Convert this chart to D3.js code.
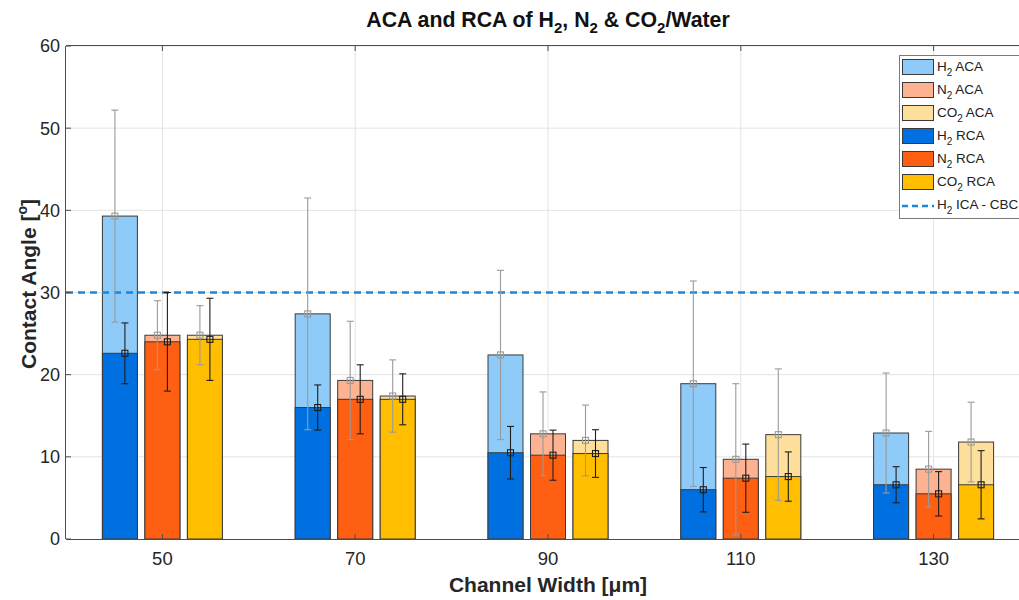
<!DOCTYPE html>
<html>
<head>
<meta charset="utf-8">
<script src="https://cdn.jsdelivr.net/npm/d3@7"></script>
<style>
  html, body { margin: 0; padding: 0; background: #fff; }
  svg { display: block; font-family: "Liberation Sans", Arial, sans-serif; }
</style>
</head>
<body>
<svg id="chart" width="1019" height="600"></svg>
<script>
// ---------------- data ----------------
const widths = [50, 70, 90, 110, 130];
const yTicks = [0, 10, 20, 30, 40, 50, 60];

const h2ACA     = [39.3, 27.4, 22.4, 18.9, 12.9];
const h2ACAerr  = [12.9, 14.1, 10.3, 12.5, 7.3];
const h2RCA     = [22.6, 16.0, 10.5, 6.0, 6.6];
const h2RCAerr  = [3.7, 2.75, 3.2, 2.7, 2.2];

const n2ACA     = [24.8, 19.3, 12.8, 9.7, 8.5];
const n2ACAerr  = [4.2, 7.2, 5.1, 9.2, 4.6];
const n2RCA     = [24.0, 17.0, 10.2, 7.4, 5.5];
const n2RCAerr  = [6.0, 4.2, 3.05, 4.15, 2.7];

const co2ACA    = [24.8, 17.4, 12.0, 12.7, 11.8];
const co2ACAerr = [3.6, 4.4, 4.3, 8.0, 4.85];
const co2RCA    = [24.3, 17.0, 10.4, 7.6, 6.6];
const co2RCAerr = [5.0, 3.1, 2.9, 3.0, 4.15];

const h2ICA_CBC = 30;

// ---------------- layout ----------------
const svg = d3.select("#chart");
const pL = 66, pR = 1030, pT = 46, pB = 539;

const x = d3.scaleLinear().domain([40, 140]).range([pL, pR]);
const y = d3.scaleLinear().domain([0, 60]).range([pB, pT]);

const gases = [
  { aca: h2ACA,  acaErr: h2ACAerr,  rca: h2RCA,  rcaErr: h2RCAerr,  light: "#8fcbf8", dark: "#0070e0", off: -42.5 },
  { aca: n2ACA,  acaErr: n2ACAerr,  rca: n2RCA,  rcaErr: n2RCAerr,  light: "#fdb292", dark: "#ff5f12", off: 0 },
  { aca: co2ACA, acaErr: co2ACAerr, rca: co2RCA, rcaErr: co2RCAerr, light: "#ffdf9c", dark: "#ffbe00", off: 42.5 }
];
const barW = 35, errOff = 5, capW = 7, mk = 6;

// grid
const grid = svg.append("g");
grid.selectAll("line.hg").data(yTicks.slice(1)).join("line")
  .attr("x1", pL).attr("x2", pR).attr("y1", d => y(d)).attr("y2", d => y(d))
  .attr("stroke", "#e3e3e3").attr("stroke-width", 1);
grid.selectAll("line.vg").data(widths).join("line")
  .attr("x1", d => x(d)).attr("x2", d => x(d)).attr("y1", pT).attr("y2", pB)
  .attr("stroke", "#e3e3e3").attr("stroke-width", 1);

// bars
const bars = svg.append("g");
gases.forEach(g => {
  bars.selectAll(null).data(widths).join("rect")
    .attr("x", (d) => x(d) + g.off - barW / 2)
    .attr("width", barW)
    .attr("y", (d, i) => y(g.aca[i]))
    .attr("height", (d, i) => y(0) - y(g.aca[i]))
    .attr("fill", g.light).attr("stroke", "#3a3a3a").attr("stroke-width", 1);
  bars.selectAll(null).data(widths).join("rect")
    .attr("x", (d) => x(d) + g.off - barW / 2)
    .attr("width", barW)
    .attr("y", (d, i) => y(g.rca[i]))
    .attr("height", (d, i) => y(0) - y(g.rca[i]))
    .attr("fill", g.dark).attr("stroke", "#3a3a3a").attr("stroke-width", 1);
});

// ICA line
svg.append("line")
  .attr("x1", pL).attr("x2", pR)
  .attr("y1", y(h2ICA_CBC)).attr("y2", y(h2ICA_CBC))
  .attr("stroke", "#1a86dc").attr("stroke-width", 2.5).attr("stroke-dasharray", "7,5");

// error bars
function errorBars(vals, errs, off, color) {
  const gE = svg.append("g").attr("stroke", color).attr("fill", "none").attr("stroke-width", 1.1);
  widths.forEach((w, i) => {
    const cx = x(w) + off;
    const v = vals[i], e = errs[i];
    gE.append("line").attr("x1", cx).attr("x2", cx).attr("y1", y(v + e)).attr("y2", y(v - e));
    gE.append("line").attr("x1", cx - capW / 2).attr("x2", cx + capW / 2).attr("y1", y(v + e)).attr("y2", y(v + e));
    gE.append("line").attr("x1", cx - capW / 2).attr("x2", cx + capW / 2).attr("y1", y(v - e)).attr("y2", y(v - e));
    gE.append("rect").attr("x", cx - mk / 2).attr("y", y(v) - mk / 2).attr("width", mk).attr("height", mk);
  });
}
gases.forEach(g => {
  errorBars(g.aca, g.acaErr, g.off - errOff, "#9a9a9a");
  errorBars(g.rca, g.rcaErr, g.off + errOff, "#1e1e1e");
});

// axes box
const ax = svg.append("g").attr("stroke", "#4d4d4d").attr("stroke-width", 1);
ax.append("line").attr("x1", pL).attr("x2", pR).attr("y1", pB + 0.5).attr("y2", pB + 0.5);
ax.append("line").attr("x1", pL).attr("x2", pR).attr("y1", pT - 0.5).attr("y2", pT - 0.5);
ax.append("line").attr("x1", pL - 0.5).attr("x2", pL - 0.5).attr("y1", pT).attr("y2", pB);
// ticks (inside)
ax.selectAll(null).data(yTicks).join("line")
  .attr("x1", pL).attr("x2", pL + 5).attr("y1", d => y(d)).attr("y2", d => y(d));
ax.selectAll(null).data(widths).join("line")
  .attr("x1", d => x(d)).attr("x2", d => x(d)).attr("y1", pB).attr("y2", pB - 5);
ax.selectAll(null).data(widths).join("line")
  .attr("x1", d => x(d)).attr("x2", d => x(d)).attr("y1", pT).attr("y2", pT + 5);

// tick labels
svg.append("g").selectAll("text").data(yTicks).join("text")
  .attr("x", pL - 6).attr("y", d => y(d)).attr("dy", "0.36em")
  .attr("text-anchor", "end").attr("font-size", 18).attr("fill", "#262626")
  .text(d => d);
svg.append("g").selectAll("text").data(widths).join("text")
  .attr("x", d => x(d)).attr("y", 565)
  .attr("text-anchor", "middle").attr("font-size", 18.5).attr("fill", "#262626")
  .text(d => d);

// title
const title = svg.append("text").attr("x", 548).attr("y", 27)
  .attr("text-anchor", "middle").attr("font-size", 21.3).attr("font-weight", "bold").attr("fill", "#111");
title.append("tspan").text("ACA and RCA of H");
title.append("tspan").attr("font-size", 15).attr("dy", 6).text("2");
title.append("tspan").attr("dy", -6).text(", N");
title.append("tspan").attr("font-size", 15).attr("dy", 6).text("2");
title.append("tspan").attr("dy", -6).text(" & CO");
title.append("tspan").attr("font-size", 15).attr("dy", 6).text("2");
title.append("tspan").attr("dy", -6).text("/Water");

// x label
svg.append("text").attr("x", 548).attr("y", 592)
  .attr("text-anchor", "middle").attr("font-size", 21).attr("font-weight", "bold").attr("fill", "#262626")
  .text("Channel Width [\u03BCm]");

// y label
const yl = svg.append("text").attr("transform", "translate(36,284) rotate(-90)")
  .attr("text-anchor", "middle").attr("font-size", 21).attr("font-weight", "bold").attr("fill", "#262626");
yl.append("tspan").text("Contact Angle [");
yl.append("tspan").attr("font-size", 14).attr("dy", -9).text("o");
yl.append("tspan").attr("dy", 9).text("]");

// legend
const legItems = [
  { base: "H", lab: " ACA", color: gases[0].light, type: "rect" },
  { base: "N", lab: " ACA", color: gases[1].light, type: "rect" },
  { base: "CO", lab: " ACA", color: gases[2].light, type: "rect" },
  { base: "H", lab: " RCA", color: gases[0].dark, type: "rect" },
  { base: "N", lab: " RCA", color: gases[1].dark, type: "rect" },
  { base: "CO", lab: " RCA", color: gases[2].dark, type: "rect" },
  { base: "H", lab: " ICA - CBC", color: "#1a86dc", type: "line" }
];
const lg = svg.append("g");
lg.append("rect").attr("x", 899.5).attr("y", 55.5).attr("width", 140).attr("height", 163)
  .attr("fill", "#fff").attr("stroke", "#7a7a7a").attr("stroke-width", 1);
legItems.forEach((it, i) => {
  const cy = 67 + i * 23;
  if (it.type === "rect") {
    lg.append("rect").attr("x", 902.5).attr("y", cy - 7.5).attr("width", 31).attr("height", 15)
      .attr("fill", it.color).attr("stroke", "#3a3a3a").attr("stroke-width", 1);
  } else {
    lg.append("line").attr("x1", 902).attr("x2", 934).attr("y1", cy + 1).attr("y2", cy + 1)
      .attr("stroke", it.color).attr("stroke-width", 2.5).attr("stroke-dasharray", "6,4");
  }
  const t = lg.append("text").attr("x", 937).attr("y", cy + 4)
    .attr("font-size", 13.5).attr("fill", "#222");
  t.append("tspan").text(it.base);
  t.append("tspan").attr("font-size", 10).attr("dy", 5).text("2");
  t.append("tspan").attr("dy", -5).text(it.lab);
});
</script>
</body>
</html>
